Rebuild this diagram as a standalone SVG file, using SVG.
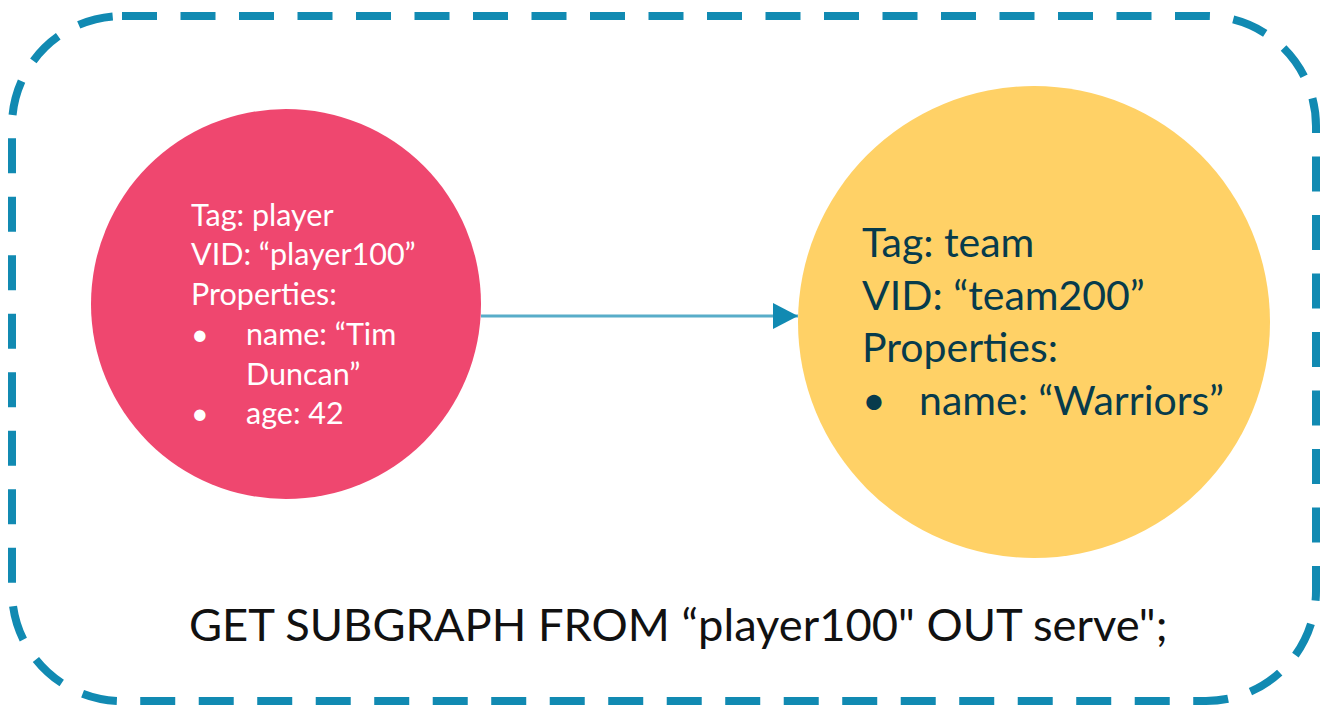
<svg xmlns="http://www.w3.org/2000/svg" width="1332" height="709" viewBox="0 0 1332 709">
<defs>
<marker id="arrow" viewBox="0 0 25 26" refX="25" refY="13" markerWidth="25" markerHeight="26" markerUnits="userSpaceOnUse" orient="auto">
<path d="M0,0 L25,13 L0,26 Z" fill="#118AB2"/>
</marker>
</defs>
<style>
.frame{fill:none;stroke:#118AB2;stroke-width:8;stroke-dasharray:35 23.5}
.pl{font-family:Lato,"Open Sans",sans-serif;font-size:30.5px;fill:#FFFFFF}
.tm{font-family:Lato,"Open Sans",sans-serif;font-size:41px;fill:#073B4C}
.q{font-family:Lato,"Open Sans",sans-serif;font-size:45.3px;fill:#111111}
.edge{stroke:#118AB2;stroke-opacity:0.7;stroke-width:3;fill:none}
</style>
<rect width="1332" height="709" fill="#FFFFFF"/>
<rect class="frame" x="12" y="16" width="1304" height="685" rx="110" ry="110"/>
<g id="player100">
<circle cx="286" cy="304" r="195" fill="#EF476F"/>
<text class="pl" x="191" y="226">Tag: player</text>
<text class="pl" x="191" y="265">VID: “player100”</text>
<text class="pl" x="191" y="305">Properties:</text>
<text class="pl" x="191" y="345">•</text>
<text class="pl" x="246" y="345">name: “Tim</text>
<text class="pl" x="246" y="385">Duncan”</text>
<text class="pl" x="191" y="424">•</text>
<text class="pl" x="246" y="424">age: 42</text>
</g>
<g id="team200">
<circle cx="1034" cy="322" r="236" fill="#FFD166"/>
<text class="tm" x="862" y="257">Tag: team</text>
<text class="tm" x="862" y="310">VID: “team200”</text>
<text class="tm" x="862" y="362">Properties:</text>
<text class="tm" x="862" y="415">•</text>
<text class="tm" x="919" y="415">name: “Warriors”</text>
</g>
<g id="connectors">
<line class="edge" x1="481" y1="316" x2="798" y2="316" marker-end="url(#arrow)"/>
</g>
<g id="query">
<text class="q" x="189" y="641">GET SUBGRAPH FROM “player100" OUT serve";</text>
</g>
</svg>
